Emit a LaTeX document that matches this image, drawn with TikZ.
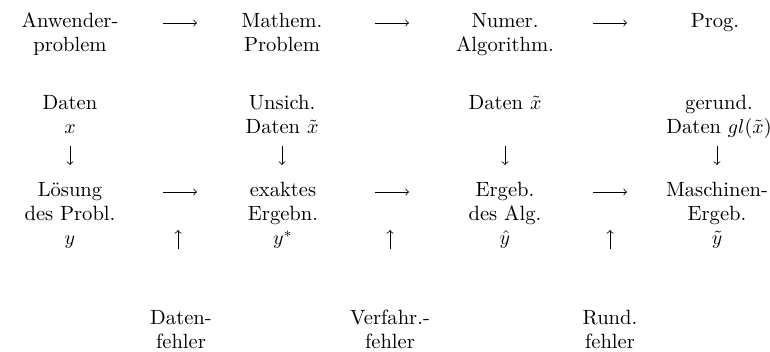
\documentclass[tikz,border=0pt]{standalone}
\usetikzlibrary{calc}
\newcommand\stk[1]{\begin{tabular}[t]{@{}c@{}}#1\end{tabular}}
\begin{document}
\begin{tikzpicture}[x=0.5pt,y=-0.5pt,
  lbl/.style={inner sep=0pt, anchor=base, font=\fontsize{10.3}{12}\selectfont},
  arr/.style={->, line width=0.4pt}]
\useasboundingbox (0,0) rectangle (770,352);
% row 1
\node[lbl] (A1) at (70,28)  {\stk{Anwender-\\problem}};
\node[lbl] (A2) at (282,28) {\stk{Mathem.\\Problem}};
\node[lbl] (A3) at (505,28) {\stk{Numer.\\Algorithm.}};
\node[lbl] (A4) at (715,28) {\stk{Prog.}};
% row 2
\node[lbl] (B1) at (70,110)  {\stk{Daten\\$x$}};
\node[lbl] (B2) at (282,110) {\stk{Unsich.\\Daten $\tilde{x}$}};
\node[lbl] (B3) at (505,110) {\stk{Daten $\tilde{x}$}};
\node[lbl] (B4) at (719,110) {\stk{gerund.\\Daten $gl(\tilde{x})$}};
% row 3
\node[lbl] (C1) at (70,197)  {\stk{L\"osung\\des Probl.\\$y$}};
\node[lbl] (C2) at (283,197) {\stk{exaktes\\Ergebn.\\$y^{*}$}};
\node[lbl] (C3) at (505,197) {\stk{Ergeb.\\des Alg.\\$\hat{y}$}};
\node[lbl] (C4) at (717,197) {\stk{Maschinen-\\Ergeb.\\$\tilde{y}$}};
% row 4
\node[lbl] (D1) at (181,324) {\stk{Daten-\\fehler}};
\node[lbl] (D2) at (390,324) {\stk{Verfahr.-\\fehler}};
\node[lbl] (D3) at (610,324) {\stk{Rund.\\fehler}};
% helper coordinates
\coordinate (dtop) at (0,146);
\coordinate (dbot) at (0,165);
\coordinate (utop) at (0,230);
\coordinate (ubot) at (0,249);
% horizontal arrows
\draw[arr] ($(A1.base)+(93,-5)$) -- ++(34,0);
\draw[arr] ($(A2.base)+(93,-5)$) -- ++(34,0);
\draw[arr] ($(A3.base)+(88,-5)$) -- ++(34,0);
\draw[arr] ($(C1.base)+(93,-5)$) -- ++(34,0);
\draw[arr] ($(C2.base)+(92,-5)$) -- ++(34,0);
\draw[arr] ($(C3.base)+(88,-5)$) -- ++(34,0);
% down arrows
\draw[arr] (B1.base |- dtop) -- (B1.base |- dbot);
\draw[arr] (B2.base |- dtop) -- (B2.base |- dbot);
\draw[arr] (B3.base |- dtop) -- (B3.base |- dbot);
\draw[arr] (C4.base |- dtop) -- (C4.base |- dbot);
% up arrows
\draw[arr] ([xshift=-1.5pt]D1.base |- ubot) -- ([xshift=-1.5pt]D1.base |- utop);
\draw[arr] (D2.base |- ubot) -- (D2.base |- utop);
\draw[arr] (D3.base |- ubot) -- (D3.base |- utop);
\end{tikzpicture}
\end{document}
